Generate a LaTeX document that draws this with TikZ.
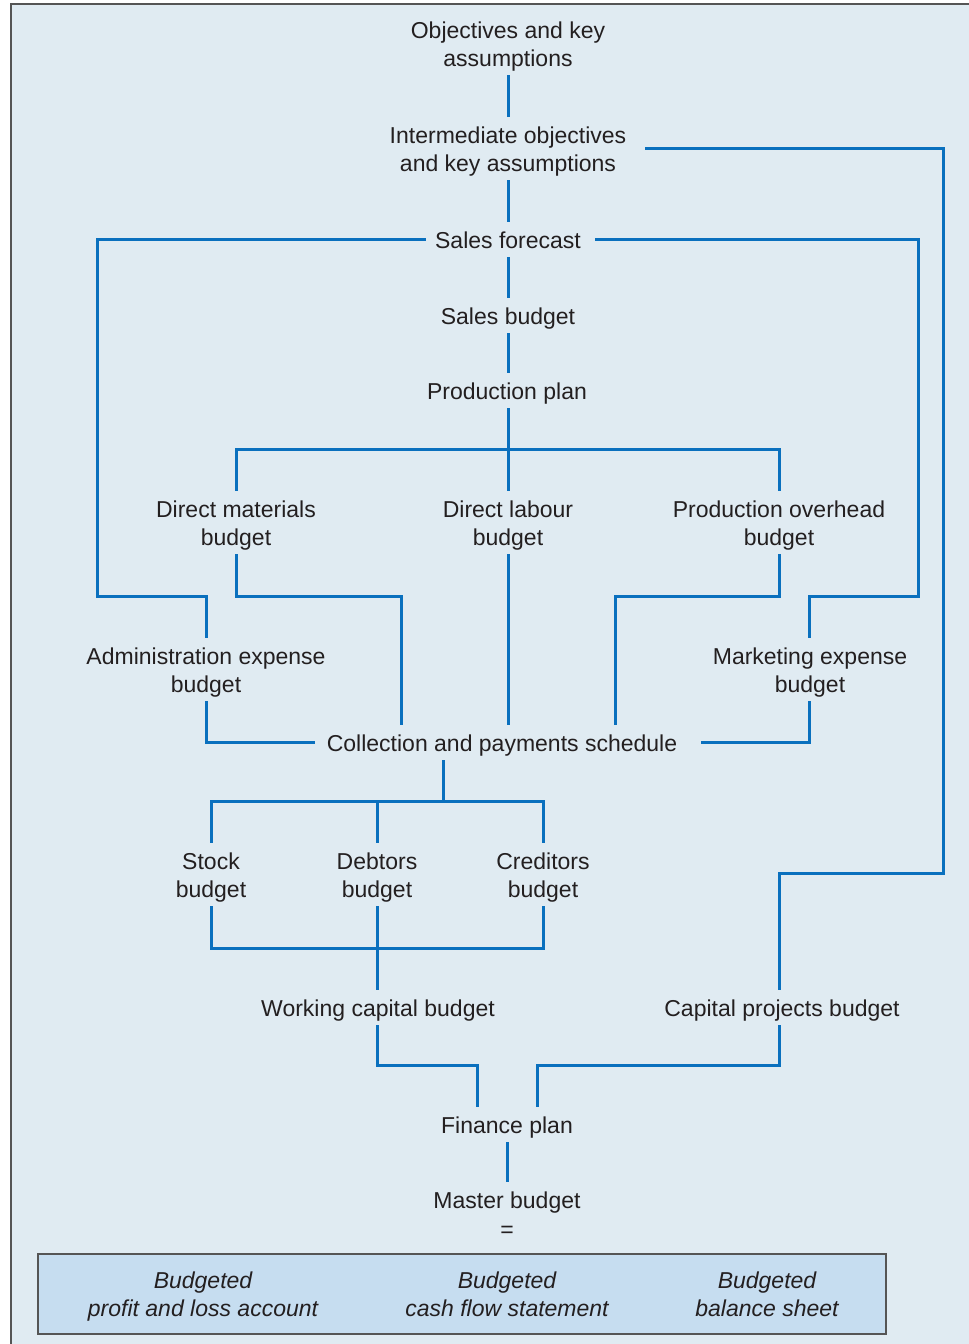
\documentclass[tikz,border=0pt]{standalone}
\usepackage{fontspec}
\setmainfont{Liberation Sans}
\definecolor{bgc}{HTML}{E0EBF2}
\definecolor{boxc}{HTML}{C6DDF0}
\definecolor{linec}{HTML}{0A70BE}
\definecolor{txt}{HTML}{231F20}
\definecolor{framec}{HTML}{555555}
\newcommand\hs{\rule{0pt}{26pt}}
\newcommand\ds{\rule[-9pt]{0pt}{9pt}}
\begin{document}
\begin{tikzpicture}[x=1pt,y=-1pt,
  lbl/.style={inner sep=0pt, align=center, text=txt, font=\fontsize{23}{28}\selectfont},
  ilbl/.style={lbl, font=\fontsize{23}{28}\selectfont\itshape},
  conn/.style={draw=linec, line width=3pt},
  frame/.style={draw=framec, line width=2pt}]
\useasboundingbox (0,0) rectangle (969,1344);
\fill[bgc] (12,5) rectangle (969,1344);
\draw[frame] (11,1344) -- (11,4) -- (969,4);

% nodes
\node[lbl] (obj) at (508,43.5) {\hs Objectives and key\\assumptions\ds};
\node[lbl] (inter) at (508,148.5) {\hs Intermediate objectives\\and key assumptions\ds};
\node[lbl] (sf) at (508,239.5) {\hs Sales forecast\ds};
\node[lbl] (sb) at (508,315.5) {\hs Sales budget\ds};
\node[lbl] (pp) at (507,390.5) {\hs Production plan\ds};
\node[lbl] (dm) at (236,522.5) {\hs Direct materials\\budget\ds};
\node[lbl] (dl) at (508,522.5) {\hs Direct labour\\budget\ds};
\node[lbl] (po) at (779,522.5) {\hs Production overhead\\budget\ds};
\node[lbl] (adm) at (206,669.5) {\hs Administration expense\\budget\ds};
\node[lbl] (mkt) at (810,669.5) {\hs Marketing expense\\budget\ds};
\node[lbl] (col) at (502,742.5) {\hs Collection and payments schedule\ds};
\node[lbl] (stk) at (211,874.5) {\hs Stock\\budget\ds};
\node[lbl] (dbt) at (377,874.5) {\hs Debtors\\budget\ds};
\node[lbl] (crd) at (543,874.5) {\hs Creditors\\budget\ds};
\node[lbl] (wc) at (378,1007.5) {\hs Working capital budget\ds};
\node[lbl] (cap) at (782,1007.5) {\hs Capital projects budget\ds};
\node[lbl] (fin) at (507,1124.5) {\hs Finance plan\ds};
\node[lbl] (mas) at (507,1199.5) {\hs Master budget\ds};
\node[lbl] (eq) at (507,1232) {=};

% output box
\node[draw=framec, line width=1.5pt, fill=boxc, minimum width=848pt, minimum height=80pt, inner sep=0pt] (outbox) at (462,1294) {};
\node[ilbl] (pl) at (203,1293.5) {\hs Budgeted\\profit and loss account\ds};
\node[ilbl] (cf) at (507,1293.5) {\hs Budgeted\\cash flow statement\ds};
\node[ilbl] (bs) at (767,1293.5) {\hs Budgeted\\balance sheet\ds};

% coordinates
\coordinate (r1) at (943,873);
\coordinate (l1) at (97,596);
\coordinate (r2) at (918,596);
\coordinate (j1) at (508,449);
\coordinate (k1) at (401,596);
\coordinate (k2) at (615,596);
\coordinate (j2) at (443,801);
\coordinate (j3) at (377,948);
\coordinate (k3) at (477,1065);
\coordinate (k4) at (537,1065);

% connectors
\draw[conn] (obj.south) -- (inter.north);
\draw[conn] (inter.south) -- (sf.north);
\draw[conn] ([xshift=19pt]inter.east) -| (r1) -| ([xshift=-3pt]cap.north);
\draw[conn] ([xshift=-9pt]sf.west) -| (l1) -| (adm.north);
\draw[conn] ([xshift=14pt]sf.east) -| (r2) -| ([xshift=-1pt]mkt.north);
\draw[conn] (sf.south) -- (sb.north);
\draw[conn] (sb.south) -- (sb.south |- pp.north);
\draw[conn] (pp.south -| dl.north) -- (dl.north);
\draw[conn] (dm.north) |- (j1) -| (po.north);
\draw[conn] (dm.south) |- (k1) -- (k1 |- col.north);
\draw[conn] (dl.south) -- (dl.south |- col.north);
\draw[conn] (po.south) |- (k2) -- (k2 |- col.north);
\draw[conn] (adm.south) |- ([xshift=-12pt]col.west);
\draw[conn] ([xshift=-1pt]mkt.south) |- ([xshift=24pt]col.east);
\draw[conn] (j2 |- col.south) -- (j2);
\draw[conn] (stk.north) |- (j2) -| (crd.north);
\draw[conn] (dbt.north) -- (dbt.north |- j2);
\draw[conn] (stk.south) |- (j3) -| (crd.south);
\draw[conn] (dbt.south) -- (dbt.south |- wc.north);
\draw[conn] ([xshift=-1pt]wc.south) |- (k3) -- (k3 |- fin.north);
\draw[conn] ([xshift=-3pt]cap.south) |- (k4) -- (k4 |- fin.north);
\draw[conn] (fin.south) -- (mas.north);
\end{tikzpicture}
\end{document}
